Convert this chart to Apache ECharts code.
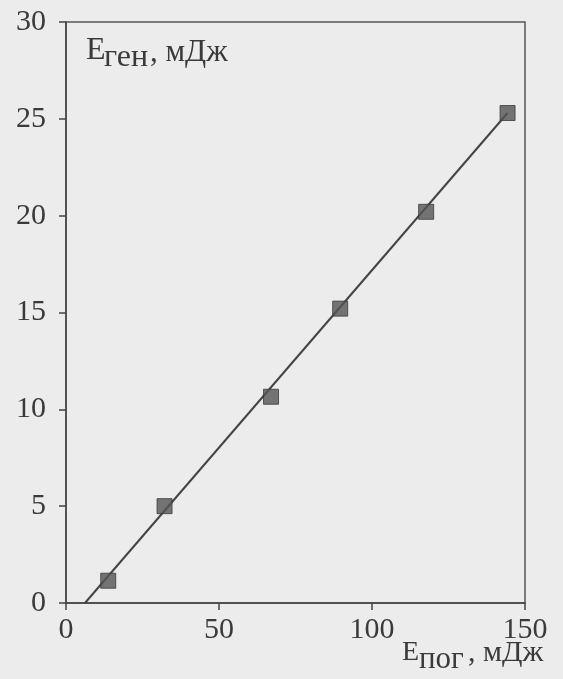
<!DOCTYPE html>
<html>
<head>
<meta charset="utf-8">
<script src="https://cdn.jsdelivr.net/npm/echarts@6/dist/echarts.min.js"></script>
<style>
html,body{margin:0;padding:0;background:#ececec;}
#c{width:563px;height:679px;}
</style>
</head>
<body>
<div id="c"></div>
<script>
// Data
const absorbedEnergy = [13.8, 32.2, 67.0, 89.6, 117.7, 144.3];   // E_пог, мДж
const generatedEnergy = [1.15, 5.0, 10.65, 15.2, 20.2, 25.3];    // E_ген, мДж
const fitX = [6.2, 144.3];
const fitY = [0, 25.3];
const xTicks = [0, 50, 100, 150];
const yTicks = [0, 5, 10, 15, 20, 25, 30];

const ink = '#3a3a3a';
const font = '"Liberation Serif", "DejaVu Serif", serif';

const chart = echarts.init(document.getElementById('c'), null, {renderer: 'canvas'});
chart.setOption({
  backgroundColor: '#ececec',
  animation: false,
  grid: {left: 66, right: 38, top: 22, bottom: 76, show: true, borderColor: '#555', borderWidth: 1.5, backgroundColor: 'transparent'},
  xAxis: {
    type: 'value', min: xTicks[0], max: xTicks[xTicks.length - 1], interval: 50,
    axisLine: {show: true, onZero: false, lineStyle: {color: '#444', width: 1.5}},
    axisTick: {show: true, length: 7, inside: false, lineStyle: {color: '#444', width: 1.5}},
    axisLabel: {color: ink, fontFamily: font, fontSize: 30, margin: 12},
    splitLine: {show: false}
  },
  yAxis: {
    type: 'value', min: yTicks[0], max: yTicks[yTicks.length - 1], interval: 5,
    axisLine: {show: true, lineStyle: {color: '#444', width: 1.5}},
    axisTick: {show: true, length: 7, lineStyle: {color: '#444', width: 1.5}},
    axisLabel: {color: ink, fontFamily: font, fontSize: 30, margin: 20, padding: [10, 0, 0, 0]},
    splitLine: {show: false}
  },
  graphic: [
    {type: 'text', left: 86, top: 35, style: {text: 'E', font: '32px ' + font, fill: ink}},
    {type: 'text', left: 104, top: 42, style: {text: 'ген', font: '32px ' + font, fill: ink}},
    {type: 'text', left: 150, top: 37, style: {text: ', мДж', font: '31px ' + font, fill: ink}},
    {type: 'text', left: 402, top: 639, style: {text: 'E', font: '28px ' + font, fill: ink}},
    {type: 'text', left: 419, top: 644, style: {text: 'пог', font: '31px ' + font, fill: ink}},
    {type: 'text', left: 468, top: 638, style: {text: ', мДж', font: '30px ' + font, fill: ink}}
  ],
  series: [
    {
      type: 'line', data: fitX.map((x, i) => [x, fitY[i]]),
      symbol: 'none', lineStyle: {color: '#444', width: 2}, z: 2
    },
    {
      type: 'scatter', data: absorbedEnergy.map((x, i) => [x, generatedEnergy[i]]),
      symbol: 'rect', symbolSize: 15,
      itemStyle: {color: '#555', borderColor: '#3a3a3a', borderWidth: 1}, z: 3
    }
  ]
});
</script>
</body>
</html>
